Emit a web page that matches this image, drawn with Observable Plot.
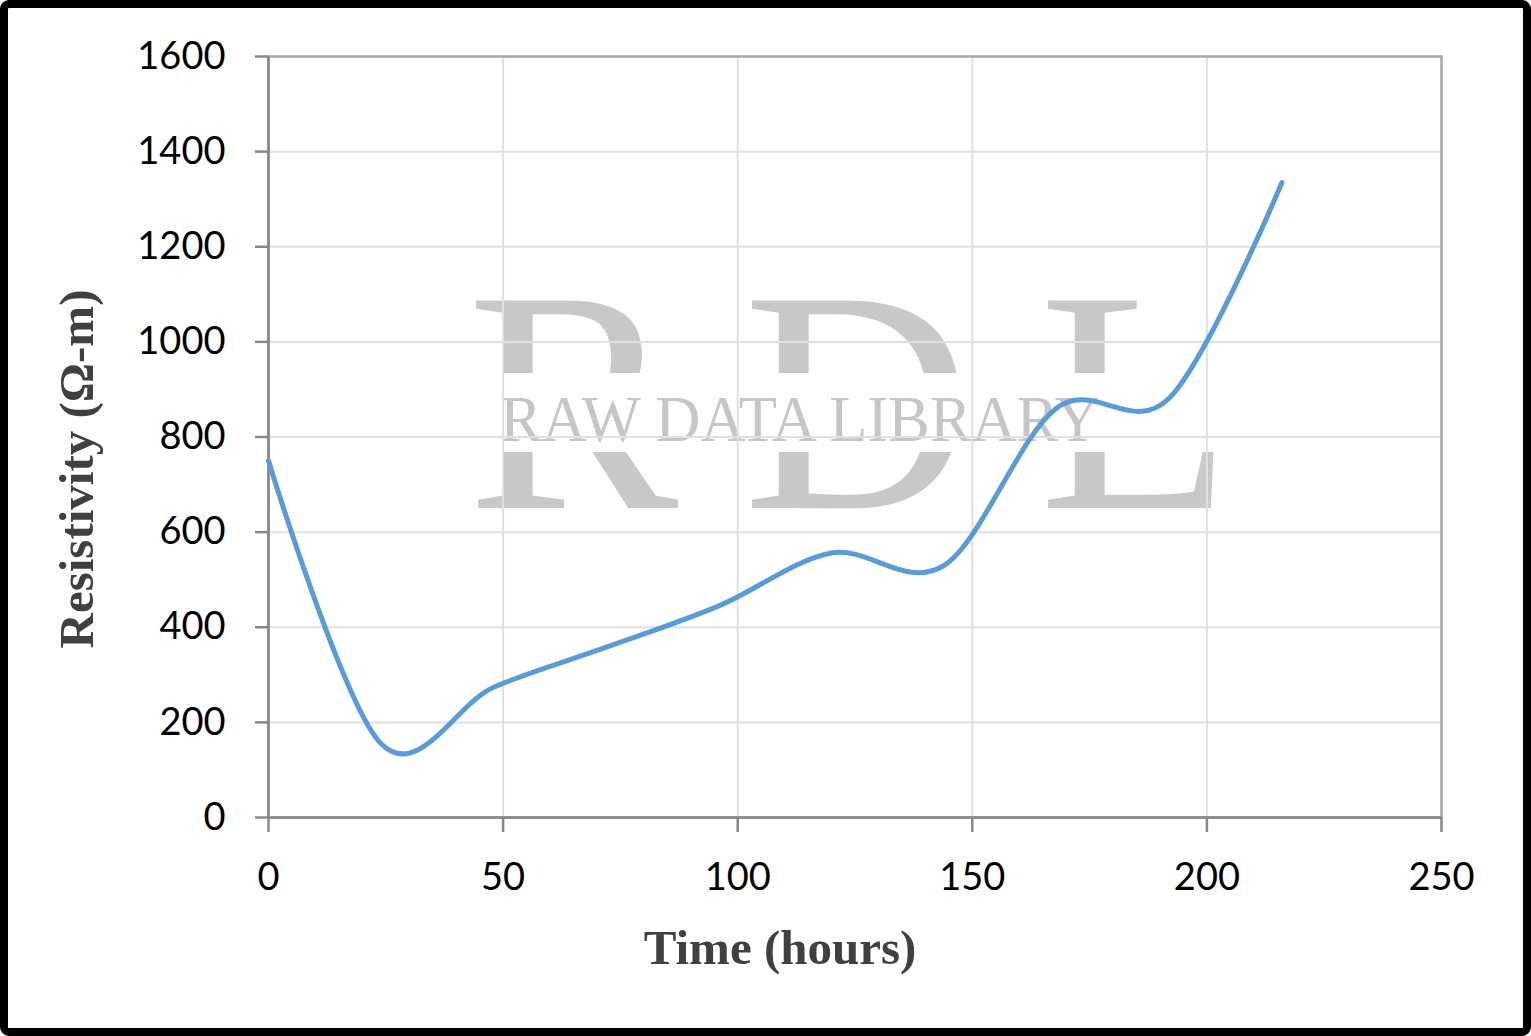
<!DOCTYPE html>
<html><head><meta charset="utf-8">
<script src="https://cdn.jsdelivr.net/npm/d3@7"></script>
<script src="https://cdn.jsdelivr.net/npm/@observablehq/plot@0.6"></script>
<style>
html,body{margin:0;padding:0;background:#fff;overflow:hidden;}
#wrap{position:relative;width:1531px;height:1036px;}
#border{position:absolute;left:0;top:0;width:1531px;height:1036px;box-sizing:border-box;border:8px solid #000;border-radius:9px;pointer-events:none;}
#chart{position:absolute;left:0;top:0;}
</style></head><body>
<div id="wrap"><div id="chart"></div><div id="border"></div></div>
<script>
const timeHours = [0, 24, 48, 72, 96, 120, 144, 168, 192, 216];
const resistivity = [750, 155, 274, 358, 445, 556, 530, 861, 882, 1335];
const xTicks = [0, 50, 100, 150, 200, 250];
const yTicks = [0, 200, 400, 600, 800, 1000, 1200, 1400, 1600];
const xLabel = "Time (hours)";
const yLabel = "Resistivity (Ω-m)";
const watermarkBig = ["R", "D", "L"];
const watermarkSmall = "RAW DATA LIBRARY";

const data = timeHours.map((t, i) => ({t, r: resistivity[i]}));

const W = 1531, H = 1036;
const plot = Plot.plot({
  width: W, height: H,
  marginLeft: 268, marginRight: 90, marginTop: 56, marginBottom: 219,
  style: {background: "transparent", fontFamily: "Lato, 'Open Sans', sans-serif", fontSize: "38px", color: "#000", overflow: "visible"},
  x: {domain: [0, 250]},
  y: {domain: [0, 1600]},
  marks: [
    Plot.gridX({ticks: xTicks, stroke: "#e0e0e0", strokeOpacity: 1, strokeWidth: 2}),
    Plot.gridY({ticks: yTicks, stroke: "#e0e0e0", strokeOpacity: 1, strokeWidth: 2}),
    Plot.frame({stroke: "#a8a8a8", strokeWidth: 2.5}),
    Plot.ruleX([0], {stroke: "#878787", strokeWidth: 2.5}),
    Plot.ruleY([0], {stroke: "#878787", strokeWidth: 2.5}),
    Plot.axisX({ticks: xTicks, tickSize: 15, tickPadding: 31, stroke: "#878787", strokeWidth: 2.5, fill: "#000", label: null, tickFormat: d => String(d)}),
    Plot.axisY({ticks: yTicks, tickSize: 13, tickPadding: 30, stroke: "#878787", strokeWidth: 2.5, fill: "#000", label: null, tickFormat: d => String(d)}),
    Plot.line(data, {x: "t", y: "r", curve: "cardinal", tension: 0, stroke: "#5B9BD5", strokeWidth: 5, strokeLinecap: "round", strokeLinejoin: "round"})
  ]
});
document.getElementById("chart").appendChild(plot);

const svg = d3.select(plot);
const defs = svg.insert("defs", ":first-child");
const clip = defs.append("clipPath").attr("id", "wmclip");
clip.append("rect").attr("x", 0).attr("y", 0).attr("width", W).attr("height", 373);
clip.append("rect").attr("x", 0).attr("y", 452).attr("width", W).attr("height", H - 452);

const wm = svg.insert("g", "g").attr("class", "watermark").attr("text-anchor", "start");
const big = wm.append("g").attr("clip-path", "url(#wmclip)")
  .attr("font-family", "'Liberation Serif', 'DejaVu Serif', serif")
  .attr("font-size", 317).attr("fill", "#c8c8c8");
const bigX = [467, 743, 1039];
watermarkBig.forEach((ch, i) => {
  big.append("text").attr("x", bigX[i]).attr("y", 508).attr("text-anchor", "start").text(ch);
});
wm.append("text").attr("x", 500).attr("y", 441).attr("text-anchor", "start")
  .attr("font-family", "'Liberation Serif', 'DejaVu Serif', serif")
  .attr("font-size", 66).attr("fill", "#c6c6c6")
  .attr("textLength", 600).attr("lengthAdjust", "spacingAndGlyphs")
  .text(watermarkSmall);

const lab = svg.append("g")
  .attr("font-family", "'Liberation Serif', 'Times New Roman', serif")
  .attr("font-weight", "bold").attr("font-size", 49).attr("fill", "#404040");
lab.append("text").attr("x", 780).attr("y", 964).attr("text-anchor", "middle").text(xLabel);
lab.append("text").attr("transform", "translate(93,469) rotate(-90)").attr("text-anchor", "middle").text(yLabel);
</script>
</body></html>
